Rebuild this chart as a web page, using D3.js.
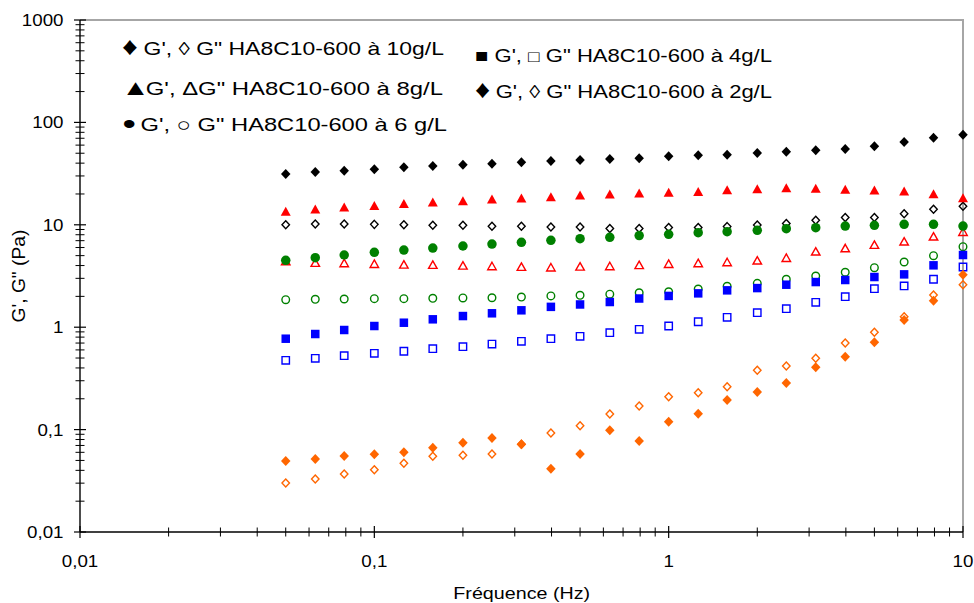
<!DOCTYPE html>
<html><head><meta charset="utf-8">
<script src="https://cdn.jsdelivr.net/npm/d3@7"></script>
<style>
body{margin:0;background:#fff}
svg{display:block}
text{font-family:"Liberation Sans",Arial,Helvetica,sans-serif;fill:#000}
</style>
</head><body>
<svg id="chart" width="974" height="603"></svg>
<script>
// ---------- DATA ----------
const freq = [0.05,0.063,0.079,0.1,0.126,0.158,0.2,0.251,0.316,0.398,0.5,0.631,0.794,1,1.26,1.58,2,2.51,3.16,3.98,5,6.31,7.94,10];

const gPrime10 = [31.3,32.8,33.8,34.8,36.4,37.5,38.6,39.5,40.8,42.0,43.0,43.9,44.6,46.7,47.7,48.4,50.3,51.8,53.4,55.0,58.4,64.4,70.9,75.9];
const gSecond10 = [10.0,10.2,10.2,10.1,10.0,9.9,9.9,9.7,9.7,9.5,9.5,9.2,9.2,9.4,9.4,9.6,9.95,10.3,11.1,11.8,11.8,12.8,14.2,15.2];

const gPrime8 = [13.6,14.3,14.9,15.4,16.1,16.7,17.2,17.9,18.3,18.8,19.5,20.0,20.4,20.8,21.2,22.0,22.5,23.0,22.7,22.2,21.9,21.4,20.1,18.4];
const gSecond8 = [4.43,4.27,4.24,4.17,4.11,4.08,4.02,3.96,3.90,3.85,3.93,3.96,4.06,4.17,4.24,4.33,4.5,4.77,5.51,5.93,6.4,6.9,7.72,8.56];

const gPrime6 = [4.5,4.77,5.07,5.39,5.67,5.93,6.21,6.49,6.75,7.06,7.32,7.55,7.85,8.08,8.37,8.56,8.84,9.16,9.37,9.73,9.89,10.1,10.1,9.73];
const gSecond6 = [1.856,1.873,1.885,1.90,1.90,1.916,1.93,1.94,1.97,2.02,2.05,2.10,2.17,2.22,2.36,2.51,2.68,2.94,3.16,3.44,3.81,4.33,4.99,6.11];

const gPrime4 = [0.772,0.858,0.939,1.027,1.106,1.194,1.285,1.367,1.462,1.58,1.667,1.762,1.906,2.02,2.14,2.29,2.41,2.60,2.76,2.89,3.09,3.28,4.02,5.07];
const gSecond4 = [0.475,0.497,0.527,0.556,0.582,0.617,0.645,0.685,0.728,0.772,0.815,0.884,0.954,1.027,1.13,1.25,1.386,1.516,1.75,1.986,2.38,2.53,2.94,3.87];

const gPrime2 = [0.0493,0.0516,0.0552,0.0574,0.060,0.0666,0.0745,0.0828,0.0719,0.0415,0.0578,0.0985,0.0774,0.1194,0.143,0.1946,0.233,0.285,0.406,0.515,0.712,1.176,1.815,3.26];
const gSecond2 = [0.0301,0.033,0.0368,0.0406,0.0469,0.0549,0.0561,0.0578,0.072,0.0926,0.109,0.142,0.170,0.2096,0.229,0.2624,0.379,0.418,0.497,0.701,0.892,1.266,2.06,2.60];

const yTickValues = [0.01,0.1,1,10,100,1000];
const yTickLabels = ["0,01","0,1","1","10","100","1000"];
const xTickValues = [0.01,0.1,1,10];
const xTickLabels = ["0,01","0,1","1","10"];

// legend lines: [filled symbol, text, open symbol, text]
const legendSymFilled = ["\u2666", "\u25B2", "\u2022", "\u25A0", "\u2666"];
const legendSymOpen   = ["\u25CA", "\u0394", "\u25CB", "\u25A1", "\u25CA"];
const legendMid  = [" G', ", "G', ", " G', ", " G', ", " G', "];
const legendTail = [" G\" HA8C10-600 \u00E0 10g/L", "G\" HA8C10-600 \u00E0 8g/L", " G\" HA8C10-600 \u00E0 6 g/L",
                    " G\" HA8C10-600 \u00E0 4g/L", " G\" HA8C10-600 \u00E0 2g/L"];
const xTitle = "Fréquence (Hz)";
const yTitle = "G', G\" (Pa)";

// ---------- LAYOUT ----------
const svg = d3.select("#chart");
const L = 80, R = 963, T = 20, B = 532;
const x = d3.scaleLog().domain([0.01, 10]).range([L, R]);
const y = d3.scaleLog().domain([0.01, 1000]).range([B, T]);

function stretch(sel, factor) {
  sel.each(function () {
    const w = this.getComputedTextLength();
    d3.select(this).attr("textLength", w * factor).attr("lengthAdjust", "spacingAndGlyphs");
  });
}

// plot border (gray top & right)
svg.append("line").attr("x1", L).attr("x2", R + 1).attr("y1", T).attr("y2", T)
  .attr("stroke", "#a6a6a6").attr("stroke-width", 2);
svg.append("line").attr("x1", R).attr("x2", R).attr("y1", T).attr("y2", B)
  .attr("stroke", "#a6a6a6").attr("stroke-width", 2);

function minors(lo, hi) {
  const out = [];
  for (let d = lo; d < hi * 0.999; d *= 10) for (let k = 2; k <= 9; k++) out.push(d * k);
  return out;
}
const yMinor = minors(0.01, 1000);
const xMinor = minors(0.01, 10);

const axes = svg.append("g");
axes.selectAll(".ymin").data(yMinor).join("line")
  .attr("x1", L - 4.5).attr("x2", L + 4.5).attr("y1", d => y(d)).attr("y2", d => y(d))
  .attr("stroke", "#000").attr("stroke-width", 1);
axes.selectAll(".ymaj").data(yTickValues).join("line")
  .attr("x1", L - 6).attr("x2", L + 6).attr("y1", d => y(d)).attr("y2", d => y(d))
  .attr("stroke", "#000").attr("stroke-width", 1.2);
axes.selectAll(".xmin").data(xMinor).join("line")
  .attr("y1", B - 4.5).attr("y2", B + 4.5).attr("x1", d => x(d)).attr("x2", d => x(d))
  .attr("stroke", "#000").attr("stroke-width", 1);
axes.selectAll(".xmaj").data(xTickValues).join("line")
  .attr("y1", B - 6).attr("y2", B + 6).attr("x1", d => x(d)).attr("x2", d => x(d))
  .attr("stroke", "#000").attr("stroke-width", 1.2);
axes.append("line").attr("x1", L).attr("x2", L).attr("y1", T).attr("y2", B)
  .attr("stroke", "#000").attr("stroke-width", 1.4);
axes.append("line").attr("x1", L).attr("x2", R).attr("y1", B).attr("y2", B)
  .attr("stroke", "#000").attr("stroke-width", 1.4);

const ylab = axes.selectAll(".ylab").data(yTickValues).join("text")
  .attr("x", 63.5).attr("y", d => y(d) + 6).attr("text-anchor", "end")
  .attr("font-size", "16.3px").text((d, i) => yTickLabels[i]);
stretch(ylab, 1.15);
const xlab = axes.selectAll(".xlab").data(xTickValues).join("text")
  .attr("x", d => x(d)).attr("y", 567).attr("text-anchor", "middle")
  .attr("font-size", "16.3px").text((d, i) => xTickLabels[i]);
stretch(xlab, 1.15);

svg.append("text").attr("x", 521.7).attr("y", 599).attr("text-anchor", "middle")
  .attr("font-size", "17.2px").attr("textLength", 136.7).attr("lengthAdjust", "spacingAndGlyphs")
  .text(xTitle);
svg.append("text").attr("transform", "translate(25,276) rotate(-90)").attr("text-anchor", "middle")
  .attr("font-size", "17.5px").attr("textLength", 93).attr("lengthAdjust", "spacingAndGlyphs")
  .text(yTitle);

// ---------- MARKERS ----------
const shapes = {
  diamond: (w, h) => `M0,${-h/2}L${w/2},0L0,${h/2}L${-w/2},0Z`,
  triangle: (w, h) => `M0,${-h/2}L${w/2},${h/2}L${-w/2},${h/2}Z`,
  square: (w, h) => `M${-w/2},${-h/2}H${w/2}V${h/2}H${-w/2}Z`
};

const series = [
  {v: gPrime10, shape: "diamond", filled: true, color: "#000000", w: 9.5, h: 10},
  {v: gSecond10, shape: "diamond", filled: false, color: "#000000", w: 7.5, h: 8},
  {v: gPrime8, shape: "triangle", filled: true, color: "#ff0000", w: 10, h: 9},
  {v: gSecond8, shape: "triangle", filled: false, color: "#ff0000", w: 8.5, h: 7.5},
  {v: gPrime6, shape: "circle", filled: true, color: "#008000", w: 9.5, h: 9.5},
  {v: gSecond6, shape: "circle", filled: false, color: "#008000", w: 7.6, h: 7.6},
  {v: gPrime4, shape: "square", filled: true, color: "#0000ff", w: 8.5, h: 8.5},
  {v: gSecond4, shape: "square", filled: false, color: "#0000ff", w: 7.4, h: 7.4},
  {v: gSecond2, shape: "diamond", filled: false, color: "#ff6600", w: 7.5, h: 8},
  {v: gPrime2, shape: "diamond", filled: true, color: "#ff6600", w: 9.5, h: 10}
];

const plot = svg.append("g");
series.forEach(s => {
  const pts = s.v.map((val, i) => ({f: freq[i], val}));
  const g = plot.append("g");
  if (s.shape === "circle") {
    g.selectAll("circle").data(pts).join("circle")
      .attr("cx", d => x(d.f)).attr("cy", d => y(d.val)).attr("r", s.w / 2)
      .attr("fill", s.filled ? s.color : "none")
      .attr("stroke", s.filled ? "none" : s.color).attr("stroke-width", 1.4);
  } else {
    g.selectAll("path").data(pts).join("path")
      .attr("transform", d => `translate(${x(d.f)},${y(d.val)})`)
      .attr("d", shapes[s.shape](s.w, s.h))
      .attr("fill", s.filled ? s.color : "none")
      .attr("stroke", s.filled ? "none" : s.color).attr("stroke-width", 1.4)
      .attr("stroke-linejoin", "miter");
  }
});

// ---------- LEGEND ----------
const legX = [122, 121.5, 122.5, 475, 475];
const legY = [55, 94.5, 131, 62.3, 98.3];
const legW = [322, 321.5, 324.5, 297, 297];
const symSize = [25, 22, 30, 18.5, 25];
const symDy = [0, 0, 2.5, 0, 0];
const midDx = [-0.5, -3, -1.5, 0, -0.5];
const openSize = [18.5, 18.5, 18.5, 16, 18.5];
const leg = svg.append("g");
legendTail.forEach((tail, i) => {
  const t = leg.append("text").attr("x", legX[i]).attr("y", legY[i]).attr("font-size", "18.5px");
  t.append("tspan").attr("font-size", symSize[i] + "px").attr("dy", symDy[i]).text(legendSymFilled[i]);
  t.append("tspan").attr("dy", -symDy[i]).attr("dx", midDx[i]).text(legendMid[i]);
  t.append("tspan").attr("font-size", openSize[i] + "px").text(legendSymOpen[i]);
  t.append("tspan").text(tail);
  t.attr("textLength", legW[i]).attr("lengthAdjust", "spacingAndGlyphs");
});
</script>
</body></html>
